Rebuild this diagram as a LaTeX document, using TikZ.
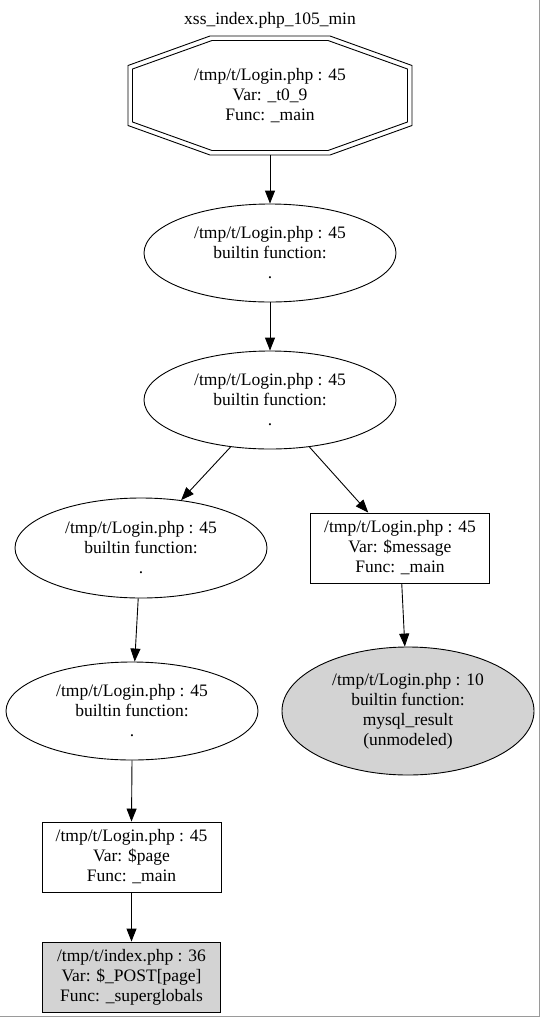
\documentclass[tikz,border=0pt]{standalone}
\usepackage{fontspec}
\setmainfont{Liberation Serif}
\usetikzlibrary{arrows.meta,shapes.geometric}
\definecolor{lgray}{HTML}{D3D3D3}
\definecolor{edgegray}{HTML}{9A9A9A}
\begin{document}
\begin{tikzpicture}[x=1pt,y=-1pt,
  every node/.style={font=\fontsize{17.5}{20}\selectfont, align=center, inner sep=0pt},
  ell/.style={draw, ellipse, line width=0.9pt, minimum width=252pt, minimum height=96pt},
  box/.style={draw, rectangle, line width=0.9pt, minimum width=179pt, minimum height=70pt},
  grayfill/.style={fill=lgray},
  edge/.style={-{Triangle[length=13pt,width=10pt]}, line width=0.9pt},
  octline/.style={line width=0.9pt}
]
\useasboundingbox (0,0) rectangle (541,1018);
\fill[white] (0,0) rectangle (541,1018);
\draw[edgegray, line width=1.6pt] (539.5,0) -- (539.5,1016.5) -- (0,1016.5);

\node (title) at (270,20) {xss\_index.php\_105\_min};

% octagon
\node[minimum width=284pt, minimum height=119pt] (oct) at (270,95.5) {/tmp/t/Login.php : 45\\Var: \_t0\_9\\Func: \_main};
\draw[octline] (210,36) -- (330,36) -- (412,65.5) -- (412,125.5) -- (330,155) -- (210,155) -- (128,125.5) -- (128,65.5) -- cycle;
\draw[octline] (212,40.5) -- (328,40.5) -- (407.5,69) -- (407.5,122) -- (328,150.5) -- (212,150.5) -- (132.5,122) -- (132.5,69) -- cycle;

\node[ell, minimum height=98pt] (e1) at (270,253) {/tmp/t/Login.php : 45\\builtin function:\\.};
\node[ell, minimum height=98pt] (e2) at (270,400) {/tmp/t/Login.php : 45\\builtin function:\\.};
\node[ell, minimum height=100pt] (e3) at (141,548) {/tmp/t/Login.php : 45\\builtin function:\\.};
\node[box] (msg) at (400,548) {/tmp/t/Login.php : 45\\Var: \$message\\Func: \_main};
\node[ell, grayfill, minimum width=252pt, minimum height=128pt] (mysql) at (408,711) {/tmp/t/Login.php : 10\\builtin function:\\mysql\_result\\(unmodeled)};
\node[ell, minimum height=98pt] (e4) at (132,711) {/tmp/t/Login.php : 45\\builtin function:\\.};
\node[box] (page) at (131.5,857) {/tmp/t/Login.php : 45\\Var: \$page\\Func: \_main};
\node[box, grayfill, minimum width=178pt] (post) at (131.5,977) {/tmp/t/index.php : 36\\Var: \$\_POST[page]\\Func: \_superglobals};

\draw[edge] (oct.south) -- (e1.north);
\draw[edge] (e1) -- (e2);
\draw[edge] (e2.230) -- (e3.50);
\draw[edge] (e2.310) -- (msg);
\draw[edge] (e3) -- (e4);
\draw[edge] (msg) -- (mysql);
\draw[edge] (e4.south) -- (page.north);
\draw[edge] (page) -- (post);
\end{tikzpicture}
\end{document}
